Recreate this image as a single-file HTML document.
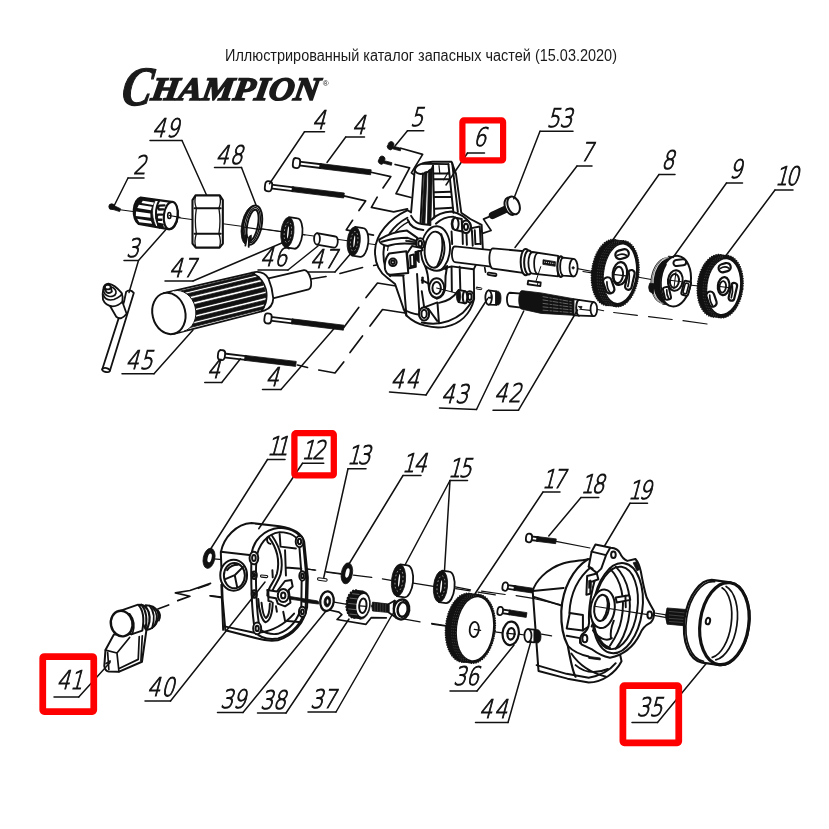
<!DOCTYPE html>
<html lang="ru">
<head>
<meta charset="utf-8">
<title>Иллюстрированный каталог запасных частей</title>
<style>
html,body{margin:0;padding:0;background:#fff;}
body{width:829px;height:829px;overflow:hidden;position:relative;font-family:"Liberation Sans",sans-serif;}
svg{position:absolute;left:0;top:0;display:block;}
.hdr{font-family:"Liberation Sans",sans-serif;font-size:15.6px;fill:#1a1a1a;}
.logo{font-family:"Liberation Serif",serif;font-weight:bold;font-style:italic;fill:#1a1a1a;stroke:#1a1a1a;stroke-width:1.2px;}
.n{font-family:"DejaVu Sans Light","DejaVu Sans","Liberation Sans",sans-serif;font-weight:200;font-size:25.6px;fill:#111;stroke:#111;stroke-width:1px;}
.l{stroke:#111;stroke-width:1.5;fill:none;stroke-linecap:round;stroke-linejoin:round;}
.p{fill:#fff;stroke:#111;stroke-width:1.8;vector-effect:non-scaling-stroke;stroke-linejoin:round;stroke-linecap:round;}
.pn{fill:none;stroke:#111;stroke-width:1.7;vector-effect:non-scaling-stroke;stroke-linejoin:round;stroke-linecap:round;}
.t{fill:none;stroke:#111;stroke-width:1;vector-effect:non-scaling-stroke;stroke-linejoin:round;stroke-linecap:round;}
.k{fill:#111;stroke:#111;stroke-width:.8;vector-effect:non-scaling-stroke;stroke-linejoin:round;}
.hv{fill:none;stroke:#111;stroke-width:2.2;vector-effect:non-scaling-stroke;stroke-linejoin:round;stroke-linecap:round;}
.w{fill:#fff;stroke:none;}
.hs .p{stroke-width:2;}
.hs .pn{stroke-width:1.95;}
.hs .t{stroke-width:1.2;}
.rb{fill:none;stroke:#ff0000;stroke-width:5;stroke-linejoin:round;}
</style>
</head>
<body>
<svg width="829" height="829" viewBox="0 0 829 829">
<rect width="829" height="829" fill="#fff"/>
<!-- header -->
<text class="hdr" style="filter:grayscale(1)" x="225" y="61" textLength="392" lengthAdjust="spacingAndGlyphs">Иллюстрированный каталог запасных частей (15.03.2020)</text>
<!-- logo -->
<g id="logo" style="filter:grayscale(1)">
<text class="logo" transform="translate(120,104.6) skewX(-9)"><tspan font-size="55.5" textLength="30" lengthAdjust="spacingAndGlyphs">C</tspan><tspan x="29.5" dy="-4.8" font-size="32.6" textLength="168" lengthAdjust="spacingAndGlyphs" style="stroke-width:1.6px">HAMPION</tspan></text>
<text x="322.8" y="85.5" font-size="8" fill="#1a1a1a" font-family="Liberation Sans, sans-serif">®</text>
</g>
<!-- red boxes -->

<g id="parts">
<!-- 05_zigzags_top.svg -->
<g transform="translate(330,130) scale(0.14476)">
<path class="k" d="M402,100 a20,20 0 1 1 36,12 l52,14 l-4,18 l-54,-14 a20,20 0 0 1 -30,-30z"/>
<path class="k" d="M340,200 a20,20 0 1 1 36,12 l52,14 l-4,18 l-54,-14 a20,20 0 0 1 -30,-30z"/>
<path class="pn" d="M490,126 L640,168 L562,296 L592,318"/>
<path class="pn" d="M450,238 L550,262 L456,440 L560,466"/>
<path class="pn" d="M275,290 L420,322 L366,400 M326,464 L286,535 L440,566 L535,545"/>
<path class="pn" d="M95,455 L246,490 L200,556 M156,624 L112,690 L300,726"/>
</g>
<!-- bolt 53 + zigzag -->
<g>
<path d="M507.5,208.4 L492.5,215.3" stroke="#111" stroke-width="7.4" stroke-linecap="round" fill="none"/>
<ellipse class="p" cx="510.6" cy="206.2" rx="5.6" ry="9" transform="rotate(-20 510.6 206.2)" style="stroke-width:2"/>
<ellipse class="p" cx="513.6" cy="205.4" rx="5.8" ry="9.2" transform="rotate(-20 513.6 205.4)" style="stroke-width:2"/>
<path class="pn" d="M489.4,216.6 L483.5,219.1 L491.1,230.5 L481,233.9"/>
</g>
<!-- dashed axes handle/bolts to housing -->
<path class="pn" d="M343.75,327.5 L358.75,307.5 M366,297.5 L377.5,283 L396,286"/>
<path class="pn" d="M297.5,365 L307.5,367.5 M318.75,370 L335,373 L343.75,362 M350,352.5 L362.5,336 M370,326 L382.5,309.5 L405,313"/>
<path class="pn" d="M311,279 L326,276.5 M340,273.5 L362.5,267.5 M373.75,265.5 L390,262.5"/>

<!-- 10_chuck_nut_ring.svg -->
<g transform="translate(100,180) scale(0.20507)">
<!-- axis line -->
<path class="t" d="M98,145 L1000,268" style="stroke-width:1.1"/>
<!-- screw 2 -->
<circle class="k" cx="57" cy="130" r="14"/>
<path class="k" d="M62,122 L100,140 L96,154 L58,142Z"/>
<!--CHUCK-->
<!-- nut 49 -->
<path class="p" style="stroke-width:2.1" d="M466,75 L584,75 L599,98 L599,310 L583,330 L467,330 L451,310 L451,98Z"/>
<path class="pn" style="stroke-width:1.9" d="M461,138 L589,138 M461,262 L589,262"/>
<path class="pn" style="stroke-width:1.3" d="M466,78 Q458,108 470,138 Q460,200 470,262 Q458,296 467,328 M584,78 Q592,108 580,138 Q590,200 580,262 Q592,296 583,328"/>
<!-- ring 48 -->
<g transform="rotate(11 742 220)">
<ellipse class="k" cx="736" cy="222" rx="45" ry="98"/>
<ellipse class="p" cx="744" cy="220" rx="44" ry="97" style="stroke-width:2"/>
<ellipse class="pn" cx="744" cy="220" rx="35" ry="87" style="stroke-width:1.3"/>
<ellipse class="p" cx="744" cy="220" rx="26" ry="77" style="stroke-width:2"/>
</g>
<path class="w" d="M716,282 L727,284 L725,328 L708,322Z"/>
<path class="pn" style="stroke-width:1.8" d="M716,280 L709,320 M727,282 L725,326"/>
<path class="k" d="M704,270 L717,266 L715,300 L705,304Z M726,276 L738,268 L738,300 L727,304Z"/>
<path class="t" d="M702,230 L788,242" style="stroke-width:1.2"/>
</g>

<!-- 11_chuck.svg -->
<g transform="translate(125,190) scale(0.07238)">
<path class="p" style="stroke-width:2.2" d="M215,105 L640,165 C700,180 735,260 728,360 C720,470 670,545 600,540 L190,470 C140,440 115,350 122,270 C130,180 170,115 215,105Z"/>
<!-- dark ribbed zone -->
<path class="k" d="M215,112 L420,142 C385,200 350,330 425,500 L190,462 C145,430 125,350 130,272 C138,190 175,122 215,112Z"/>
<path class="w" d="M245,150 L400,174 L386,206 L228,180Z M192,204 L372,232 L358,280 L170,250Z M152,298 L350,326 L352,384 L150,360Z M168,398 L358,428 L376,468 L196,444Z"/>
<!-- groove -->
<path class="pn" style="stroke-width:2" d="M472,150 C415,250 410,400 476,520"/>
<!-- slots -->
<path class="pn" style="stroke-width:2.4" d="M545,212 L475,216 Q440,242 472,270 L528,268 M512,340 L452,340 Q418,376 452,412 L502,412 M520,478 L468,470 Q452,488 470,500 L520,508"/>
<!-- face -->
<ellipse class="p" cx="632" cy="352" rx="95" ry="190" transform="rotate(7 632 352)" style="stroke-width:2.2"/>
<ellipse cx="612" cy="352" rx="22" ry="42" fill="#fff" stroke="#111" stroke-width="22"/>
<path class="t" style="stroke-width:1.2" d="M612,352 L760,378"/>
</g>

<!-- 20_bearings.svg -->
<path class="t" style="stroke-width:1.1" d="M260,228.5 L378,245"/>
<g transform="rotate(6 287.4 232.3)"><path class="p" style="stroke-width:1.8" d="M287.4,217.10000000000002 L296.0,217.5 A6.5,15.2 0 0 1 296.0,247.9 L287.4,247.5 Z"/><ellipse class="k" cx="287.4" cy="232.3" rx="6.5" ry="15.2"/><ellipse cx="287.9" cy="232.3" rx="3.6" ry="10.3" fill="none" stroke="#fff" stroke-width=".7" stroke-dasharray="1.6 2.4" opacity=".8"/><ellipse class="w" cx="288.0" cy="232.3" rx="0.7" ry="6.1"/></g>
<path class="p" d="M317,233.2 L335.5,236.5 A3,5.6 8 0 1 334,247.6 L317,244.6Z"/><ellipse class="p" cx="317" cy="238.9" rx="2.9" ry="5.6"/>
<g transform="rotate(6 353.7 241.3)"><path class="p" style="stroke-width:1.8" d="M353.7,226.8 L361.8,227.1 A6.5,14.5 0 0 1 361.8,256.1 L353.7,255.8 Z"/><ellipse class="k" cx="353.7" cy="241.3" rx="6.5" ry="14.5"/><ellipse cx="354.2" cy="241.3" rx="3.6" ry="9.9" fill="none" stroke="#fff" stroke-width=".7" stroke-dasharray="1.6 2.4" opacity=".8"/><ellipse class="w" cx="354.3" cy="241.3" rx="0.7" ry="5.8"/></g>
<!-- 21_bolts4.svg -->
<g transform="translate(293,162.7) rotate(7.02)"><rect class="p" x="6" y="-1.9" width="22.0" height="3.8"/><rect class="k" x="27.0" y="-2.5" width="51.5" height="5.0"/><rect class="p" x="0" y="-5.0" width="7" height="10" rx="2.6" ry="3.5"/></g>
<g transform="translate(265,185.8) rotate(7.00)"><rect class="p" x="6" y="-1.9" width="22.3" height="3.8"/><rect class="k" x="27.3" y="-2.5" width="52.3" height="5.0"/><rect class="p" x="0" y="-5.0" width="7" height="10" rx="2.6" ry="3.5"/></g>
<g transform="translate(264.5,318) rotate(6.98)"><rect class="p" x="6" y="-1.9" width="22.4" height="3.8"/><rect class="k" x="27.4" y="-2.5" width="52.4" height="5.0"/><rect class="p" x="0" y="-5.0" width="7" height="10" rx="2.6" ry="3.5"/></g>
<g transform="translate(218,354.7) rotate(6.73)"><rect class="p" x="6" y="-1.9" width="22.0" height="3.8"/><rect class="k" x="27.0" y="-2.5" width="51.5" height="5.0"/><rect class="p" x="0" y="-5.0" width="7" height="10" rx="2.6" ry="3.5"/></g>
<!-- 30_handle.svg -->
<g transform="translate(150,255) scale(0.20507)">
<!-- dashed axis from handle neck to housing -->
<g transform="translate(92,285) rotate(-13.8)">
<!-- neck -->
<path class="p" d="M470,-50 L690,-48 A22,48 0 0 1 690,48 L470,50Z"/>
<!-- grip body -->
<path class="p" d="M0,-102 L455,-96 Q500,-90 512,-50 Q520,0 512,50 Q500,92 455,98 L0,102Z"/>
<!-- ribs -->
<g>
<path class="k" d="M40,-93 L452,-90 L452,-80 L40,-82Z"/>
<path class="k" d="M40,-72 L470,-70 L472,-54 L40,-56Z"/>
<path class="k" d="M40,-44 L478,-42 L480,-24 L40,-26Z"/>
<path class="k" d="M40,-13 L482,-12 L482,7 L40,7Z"/>
<path class="k" d="M40,18 L482,18 L480,37 L40,38Z"/>
<path class="k" d="M40,49 L476,49 L470,66 L40,68Z"/>
<path class="k" d="M40,78 L462,77 L452,90 L40,92Z"/>
</g>
<ellipse class="w" cx="52" cy="0" rx="80" ry="101"/>
<path class="t" d="M52,-101 A80,101 0 0 1 52,101"/>
<ellipse class="p" cx="0" cy="0" rx="80" ry="102" style="stroke-width:2"/>
<path class="pn" d="M440,-97 Q486,-60 488,0 Q486,60 440,98"/>
</g>
</g>

<!-- 31_key.svg -->
<g transform="translate(90,275) scale(0.1327)">
<!-- T bar -->
<path class="p" d="M92,712 L258,195 L272,128 Q300,100 330,135 L150,722 Q120,745 92,712Z"/>
<ellipse class="p" cx="121" cy="716" rx="29" ry="15" transform="rotate(12 121 716)"/>
<!-- body -->
<path class="p" d="M150,232 L198,315 Q235,345 276,292 L245,205Z"/>
<!-- head cone -->
<path class="p" d="M100,105 Q105,70 140,66 Q185,72 238,135 Q252,170 244,200 Q215,235 170,236 Q115,228 98,185 Q92,140 100,105Z"/>
<path class="pn" d="M100,150 Q120,200 180,185 Q240,160 240,140"/>
<ellipse class="pn" cx="150" cy="125" rx="47" ry="36" transform="rotate(15 150 125)"/>
<path class="p" d="M112,95 L122,128 Q145,145 165,125 L156,90Z"/>
<ellipse class="p" cx="134" cy="92" rx="22" ry="17"/>
</g>

<!-- 40_housing6.svg -->
<g class="hs" transform="translate(370,150) scale(0.15682)">
<!-- silhouette -->
<path class="p" style="stroke-width:1.9" d="M285,130 C290,95 330,80 400,75 L520,75 L548,150 L582,400 L640,440 L712,478 L720,640 L662,760 L664,950 C640,1050 570,1110 480,1128 C400,1140 300,1120 232,1055 L215,1015 L160,855 L110,815 C60,780 30,720 32,640 C36,540 120,440 240,384 L262,398 Z"/>
<!-- round body arcs on left -->
<path class="pn" d="M238,432 C150,480 90,560 86,650 C84,720 100,770 128,805"/>
<path class="t" d="M250,455 C175,495 120,560 112,640"/>
<!-- tower -->
<path class="pn" d="M285,130 Q300,160 345,150 Q395,135 402,100"/>
<path class="pn" d="M262,420 Q290,470 330,472 L385,478"/>
<path class="pn" d="M240,444 Q262,505 340,510"/>
<path class="pn" d="M338,150 L322,465"/>
<path class="k" d="M348,140 L364,138 L350,470 L330,468Z M374,128 L398,118 L388,476 L366,474Z"/>
<path class="pn" d="M402,100 L410,430 M500,90 L532,400 M524,82 L560,395"/>
<path class="pn" d="M335,88 L500,90 M410,150 L503,150 M410,186 L506,186 M412,270 L515,266 M412,300 L518,300 M414,375 L526,368"/>
<path class="t" d="M440,100 L445,150 M470,190 L500,140"/>
<!-- flange plate top -->
<path class="pn" d="M392,445 Q440,395 520,392 Q600,410 640,470 L650,520"/>
<path class="pn" d="M420,470 Q470,425 530,425 Q575,440 590,470"/>
<!-- right-top lug -->
<ellipse class="p" cx="612" cy="490" rx="30" ry="40"/>
<ellipse class="p" cx="612" cy="490" rx="13" ry="20"/>
<!-- small cylinder boss -->
<path class="p" d="M545,432 L585,440 L588,520 L545,510Z"/>
<ellipse class="p" cx="545" cy="471" rx="20" ry="39"/>
<path class="k" d="M524,440 Q510,470 524,505 L532,505 Q520,470 532,440Z"/>
<!-- right bracket slot -->
<path class="pn" d="M640,500 L700,488 L706,600 M650,520 L655,610 M668,512 L672,600 L700,598"/>
<path class="pn" d="M590,520 L592,600 M615,530 L618,605 M520,520 L524,600"/>
<!-- big boss -->
<g transform="rotate(4 418 632)">
<ellipse class="p" cx="418" cy="632" rx="92" ry="146" style="stroke-width:1.9"/>
<ellipse class="p" cx="412" cy="636" rx="63" ry="115" style="stroke-width:1.9"/>
<path class="pn" d="M448,535 Q478,640 436,740"/>
</g>
<!-- keyhole neck + lower boss -->
<path class="p" d="M352,740 Q372,790 372,850 Q375,930 425,948 Q478,935 480,870 Q478,800 492,740 Q430,800 352,740Z"/>
<ellipse class="p" cx="425" cy="880" rx="48" ry="62"/>
<ellipse class="p" cx="425" cy="880" rx="27" ry="38"/>
<!-- left wing/fin -->
<path class="p" d="M58,572 Q140,522 236,514 L302,560 L292,600 Q180,588 112,612 Q60,604 58,572Z"/>
<path class="pn" d="M75,585 Q160,560 240,560 L296,580"/>
<path class="k" d="M228,575 l60,8 l0,8 l-60,-8z"/>
<!-- left lug -->
<ellipse class="p" cx="320" cy="597" rx="26" ry="34"/>
<ellipse class="p" cx="320" cy="597" rx="12" ry="19"/>
<!-- Y bracket -->
<path class="p" d="M236,660 L268,612 L330,625 L335,640 L290,650 L292,745 L246,756Z"/>
<path class="pn" d="M256,672 L280,666 L282,738 L259,744Z"/>
<path class="k" d="M292,650 L312,640 L314,720 L294,700Z"/>
<!-- left boss with hole -->
<path class="p" d="M232,646 L122,660 Q88,700 96,760 Q106,796 132,796 L244,784Z"/>
<circle class="p" cx="146" cy="716" r="24"/>
<circle class="p" cx="146" cy="716" r="11"/>
<!-- lower left walls -->
<path class="pn" d="M212,800 L232,1055 M300,790 L316,1060 M130,800 L215,800"/>
<path class="pn" d="M215,1015 Q250,1040 316,1050"/>
<!-- bottom lug -->
<ellipse class="p" cx="345" cy="1045" rx="32" ry="42"/>
<ellipse class="p" cx="345" cy="1045" rx="17" ry="26"/>
<path class="pn" d="M350,1002 L430,972 L440,1105 M372,1012 L428,1090 M345,1000 L330,900 M330,830 L372,850"/>
<path class="pn" d="M330,1100 Q480,1130 590,1040 Q640,990 656,950"/>
<path class="pn" d="M440,975 Q520,960 560,900"/>
<!-- right side panels -->
<path class="pn" d="M520,745 L522,900 M572,745 L576,890 M660,760 L520,742 M480,760 Q500,740 520,745"/>
<!-- right lower lug -->
<ellipse class="p" cx="636" cy="936" rx="26" ry="36"/>
<ellipse class="p" cx="636" cy="936" rx="12" ry="21"/>
<!-- lower bushing on shaft -->
<path class="t" style="stroke-width:1.1" d="M425,880 L560,915"/>
<path class="p" d="M565,893 L605,900 L606,978 L565,970Z"/>
<ellipse class="p" cx="606" cy="939" rx="14" ry="39"/>
<ellipse class="k" cx="565" cy="931" rx="14" ry="39"/>
<path class="k" d="M330,810 l10,0 l0,40 l-10,0z"/>
</g>

<!-- 45_shafts.svg -->
<g transform="translate(450,230) scale(0.19305)">
<!-- axis -->
<path class="t" style="stroke-width:1.1" d="M640,196 L745,216"/>
<!-- shaft 7 section 1 -->
<path class="p" d="M25,85 L215,104 L212,190 L25,166 A15,40 0 0 1 25,85Z"/>
<!-- section 2 -->
<path class="p" d="M222,95 L385,110 L378,222 L222,200 A18,52 0 0 1 222,95Z"/>
<!-- collar -->
<ellipse class="p" cx="392" cy="166" rx="26" ry="68" style="stroke-width:2"/>
<ellipse class="p" cx="408" cy="168" rx="24" ry="62" style="stroke-width:2"/>
<!-- section 3 -->
<path class="p" d="M428,114 L560,134 L560,240 L428,226 A22,56 0 0 1 428,114Z"/>
<path class="pn" d="M452,120 A22,56 0 0 0 452,228"/>
<path class="k" d="M482,154 L546,164 L545,188 L481,178Z"/>
<path d="M488,166 L540,174" stroke="#fff" stroke-width="5" stroke-dasharray="5 5" fill="none"/>
<!-- groove ring -->
<ellipse class="p" cx="574" cy="190" rx="18" ry="53" style="stroke-width:2.2"/>
<!-- end section -->
<path class="p" d="M586,143 L640,150 L640,240 L586,236 A18,47 0 0 1 586,143Z"/>
<ellipse class="p" cx="640" cy="195" rx="21" ry="45"/>
<circle class="k" cx="638" cy="196" r="6"/>
<!-- keys -->
<path class="t" d="M470,190 L445,266"/>
<path class="p" d="M405,262 L470,272 L468,291 L402,281Z"/>
<path class="t" d="M455,270 L453,289"/>
<rect class="p" x="196" y="220" width="46" height="12" rx="5" transform="rotate(9 196 220)"/>
<path class="pn" d="M180,195 L184,218"/>
<rect class="p" x="136" y="296" width="30" height="9" rx="4" transform="rotate(9 136 296)" style="stroke-width:1"/>
<!-- bushing 43 -->
<path class="p" d="M200,313 L240,318 L240,388 L200,387Z"/>
<path class="k" d="M236,316 L252,318 A16,36 0 0 1 252,388 L236,388Z"/>
<ellipse class="p" cx="200" cy="350" rx="17" ry="37"/>
<path class="pn" d="M200,350 L214,352 L214,340"/>
<!-- shaft 42 -->
<path class="p" d="M310,325 L372,330 L368,402 L310,395 A15,35 0 0 1 310,325Z"/>
<path class="k" d="M372,314 L472,326 L640,356 L640,442 L472,432 L372,410 A16,48 0 0 1 372,314Z"/>
<path d="M480,345 L632,372 M480,362 L632,386 M480,380 L632,400 M480,398 L632,414 M480,415 L632,428" stroke="#fff" stroke-width="3" fill="none" stroke-dasharray="30 6 12 4" opacity=".6"/>
<path class="p" d="M640,358 L745,374 L745,446 L640,442Z"/>
<ellipse class="p" cx="745" cy="410" rx="17" ry="36"/>
<path class="pn" d="M668,362 A14,40 0 0 0 668,444" style="stroke-width:2"/>
<path class="k" d="M664,396 L684,396 L680,408Z"/>
<path class="t" style="stroke-width:1.1" d="M764,412 L796,418"/>
</g>

<!-- 50_gears_top.svg -->
<g transform="translate(585,235) scale(0.20507)">
<path class="t" style="stroke-width:1.1" d="M-10,178 L40,186 M255,205 L330,218 M520,245 L565,250"/>
<g transform="rotate(7 172 189)"><ellipse class="k" cx="122" cy="189" rx="89" ry="161"/><rect class="k" x="122" y="28" width="50" height="322"/><ellipse class="k" cx="172" cy="189" rx="89" ry="161"/><ellipse cx="122" cy="189" rx="90" ry="162" fill="none" stroke="#111" vector-effect="non-scaling-stroke" style="stroke-width:1.4;stroke-dasharray:1.2 1.2"/><ellipse cx="172" cy="189" rx="90" ry="162" fill="none" stroke="#111" vector-effect="non-scaling-stroke" style="stroke-width:1.4;stroke-dasharray:1.2 1.2"/><path d="M128.4,32.8 A89,161 0 0 0 128.4,345.2" fill="none" stroke="#fff" stroke-width="2.0" stroke-dasharray="5.0 9.0" opacity=".45"/><path d="M138.4,32.8 A89,161 0 0 0 138.4,345.2" fill="none" stroke="#fff" stroke-width="2.0" stroke-dasharray="5.0 9.0" opacity=".45"/><path d="M148.4,32.8 A89,161 0 0 0 148.4,345.2" fill="none" stroke="#fff" stroke-width="2.0" stroke-dasharray="5.0 9.0" opacity=".45"/><path d="M158.4,32.8 A89,161 0 0 0 158.4,345.2" fill="none" stroke="#fff" stroke-width="2.0" stroke-dasharray="5.0 9.0" opacity=".45"/><ellipse class="w" cx="170.2" cy="189" rx="77" ry="143.0"/></g>
<g transform="rotate(7 172 190)">
<ellipse class="p" cx="170" cy="188" rx="35" ry="56" style="stroke-width:2.2"/>
<ellipse class="p" cx="163" cy="196" rx="23" ry="40" style="stroke-width:2"/>
<path class="t" style="stroke-width:1.2" d="M138,196 L200,196"/>
<rect class="p" x="136" y="72" width="66" height="42" rx="21" transform="rotate(-22 169 93)" style="stroke-width:2.2"/>
<rect class="p" x="206" y="164" width="32" height="98" rx="16" transform="rotate(6 222 213)" style="stroke-width:2.2"/>
<rect class="p" x="102" y="212" width="42" height="80" rx="20" transform="rotate(-26 123 252)" style="stroke-width:2.2"/>
<path class="pn" d="M146,102 q22,-16 44,-6 M214,180 q8,36 2,66 M112,236 q4,34 22,50"/>
</g>
<g transform="rotate(7 440 225)">
<ellipse class="k" cx="392" cy="228" rx="70" ry="112"/>
<rect class="k" x="392" y="108" width="48" height="236"/>
<path d="M372,126 A70,112 0 0 0 372,330 M384,120 A70,112 0 0 0 384,336 M396,116 A70,112 0 0 0 396,340" fill="none" stroke="#fff" stroke-width="3"/>
<path class="k" d="M318,250 q-8,20 4,40 l20,10 l0,-50z"/>
<ellipse class="p" cx="440" cy="225" rx="76" ry="124" style="stroke-width:2"/>
<path class="pn" d="M385,150 A76,124 0 0 0 400,320" />
<ellipse class="p" cx="440" cy="222" rx="36" ry="50" style="stroke-width:2"/>
<ellipse class="p" cx="436" cy="224" rx="22" ry="34" style="stroke-width:2"/>
<path class="t" d="M405,224 L470,224 M438,180 L438,262"/>
<rect class="p" x="420" y="118" width="62" height="30" rx="15" transform="rotate(-14 450 133)" style="stroke-width:2"/>
<rect class="p" x="480" y="218" width="34" height="70" rx="8" transform="rotate(8 497 253)" style="stroke-width:2"/>
<rect class="p" x="487" y="228" width="18" height="52" rx="8" transform="rotate(8 497 253)" style="stroke-width:1.6"/>
<rect class="p" x="392" y="258" width="30" height="62" rx="10" transform="rotate(-20 407 288)" style="stroke-width:2"/>
<path class="pn" d="M404,272 q2,26 14,40"/>
</g>
<g transform="rotate(7 678 252)"><ellipse class="k" cx="640" cy="252" rx="91" ry="152"/><rect class="k" x="640" y="100" width="38" height="304"/><ellipse class="k" cx="678" cy="252" rx="91" ry="152"/><ellipse cx="640" cy="252" rx="92" ry="153" fill="none" stroke="#111" vector-effect="non-scaling-stroke" style="stroke-width:1.4;stroke-dasharray:1.2 1.2"/><ellipse cx="678" cy="252" rx="92" ry="153" fill="none" stroke="#111" vector-effect="non-scaling-stroke" style="stroke-width:1.4;stroke-dasharray:1.2 1.2"/><path d="M645.9,104.6 A91,152 0 0 0 645.9,399.4" fill="none" stroke="#fff" stroke-width="2.0" stroke-dasharray="5.0 9.0" opacity=".45"/><path d="M655.4,104.6 A91,152 0 0 0 655.4,399.4" fill="none" stroke="#fff" stroke-width="2.0" stroke-dasharray="5.0 9.0" opacity=".45"/><path d="M664.9,104.6 A91,152 0 0 0 664.9,399.4" fill="none" stroke="#fff" stroke-width="2.0" stroke-dasharray="5.0 9.0" opacity=".45"/><ellipse class="w" cx="676.2" cy="252" rx="79" ry="134.0"/></g>
<g transform="rotate(7 682 250)">
<ellipse class="p" cx="676" cy="250" rx="28" ry="44" style="stroke-width:2.2"/>
<ellipse class="p" cx="672" cy="254" rx="16" ry="28" style="stroke-width:1.8"/>
<path class="t" style="stroke-width:1.2" d="M648,254 L740,254"/>
<rect class="p" x="640" y="140" width="60" height="40" rx="20" transform="rotate(-22 670 160)" style="stroke-width:2.2"/>
<rect class="p" x="710" y="228" width="28" height="88" rx="14" transform="rotate(6 724 272)" style="stroke-width:2.2"/>
<rect class="p" x="606" y="282" width="38" height="76" rx="19" transform="rotate(-26 625 320)" style="stroke-width:2.2"/>
<path class="pn" d="M650,166 q20,-16 40,-6 M718,244 q8,32 2,58 M614,302 q4,32 20,48"/>
</g>
<path class="t" style="stroke-width:1.2" d="M-25,362 L25,368 M140,378 L255,392 M310,398 L425,412 M478,418 L595,434"/>
</g>
<!-- 60_housing12.svg -->
<g class="hs" transform="translate(200,505) scale(0.18094)">
<!-- axis lines -->
<path class="t" style="stroke-width:1.1" d="M75,298 L125,302 M55,500 L120,508 M300,320 L640,360 M-10,462 L50,440 M700,372 L790,384"/>
<!-- body silhouette -->
<path class="p" style="stroke-width:2" d="M115,262 C130,180 200,105 285,100 L440,118 C520,130 565,160 576,205 L596,400 L592,565 C575,650 520,720 430,748 C390,752 340,745 318,738 L140,692 L125,520 Z"/>
<!-- left panel ledge lines -->
<path class="pn" d="M115,258 L285,278 M142,672 L300,706 M118,440 L128,690"/>
<!-- front rim outer -->
<path class="pn" style="stroke-width:2" d="M285,278 C290,200 350,135 440,126 C510,130 560,160 570,205 L588,400 L584,565 C566,650 520,710 432,738 C380,745 330,735 305,700 C285,600 280,400 285,278Z"/>
<!-- inner rim -->
<path class="pn" d="M312,300 C320,220 370,160 440,150 C505,152 540,175 548,215 L562,400 L560,560 C545,630 500,690 430,712 C390,718 345,705 330,680 C312,600 305,400 312,300Z"/>
<!-- round hole on left panel -->
<ellipse class="p" cx="186" cy="388" rx="74" ry="86" style="stroke-width:2"/>
<ellipse class="p" cx="190" cy="390" rx="58" ry="70" style="stroke-width:2"/>
<path class="pn" d="M192,388 L238,342 M192,388 L140,410 M192,388 L205,452 M150,360 Q170,330 210,330"/>
<!-- screw bosses -->
<ellipse class="p" cx="298" cy="293" rx="24" ry="35"/>
<ellipse class="p" cx="298" cy="293" rx="10" ry="16"/>
<ellipse class="p" cx="550" cy="202" rx="21" ry="31"/>
<ellipse class="p" cx="550" cy="202" rx="9" ry="15"/>
<ellipse class="p" cx="566" cy="392" rx="17" ry="26"/>
<ellipse class="p" cx="566" cy="392" rx="7" ry="12"/>
<ellipse class="p" cx="566" cy="590" rx="19" ry="28"/>
<ellipse class="p" cx="566" cy="590" rx="8" ry="13"/>
<ellipse class="p" cx="316" cy="682" rx="22" ry="32"/>
<ellipse class="p" cx="316" cy="682" rx="9" ry="15"/>
<ellipse class="p" cx="300" cy="388" rx="14" ry="21"/>
<ellipse class="p" cx="300" cy="388" rx="5" ry="8"/>
<ellipse class="p" cx="300" cy="492" rx="14" ry="21"/>
<ellipse class="p" cx="300" cy="492" rx="5" ry="8"/>
<!-- internal S wall -->
<path class="pn" style="stroke-width:2" d="M378,175 C420,230 445,300 425,380 C410,430 375,450 372,500"/>
<path class="pn" d="M398,170 C440,230 465,300 445,385 C430,430 400,455 395,495"/>
<path class="pn" d="M372,180 Q365,210 390,215 M440,160 L445,230 L530,240 M470,250 L475,390 M475,345 L560,352 M400,360 L402,400"/>
<!-- pin small -->
<rect class="p" x="335" y="386" width="40" height="12" rx="6" transform="rotate(6 335 386)" style="stroke-width:1.1"/>
<!-- lower arcs -->
<path class="pn" style="stroke-width:2" d="M322,520 C325,590 345,640 362,648 C385,640 400,600 402,540"/>
<path class="pn" d="M340,540 C345,590 355,620 365,625 C378,615 385,590 386,545"/>
<path class="pn" d="M330,705 Q440,690 520,600 M460,590 L470,640 L560,648 M420,560 L425,590"/>
<!-- lever boss -->
<path class="p" d="M372,470 L425,478 L470,420 L505,415 L512,450 L490,470 L500,540 L470,560 L430,545 L420,515 L378,508Z"/>
<ellipse class="p" cx="460" cy="500" rx="30" ry="36" style="stroke-width:2"/>
<ellipse class="p" cx="460" cy="500" rx="12" ry="16"/>
<path class="k" d="M492,505 L650,530 L650,542 L492,520Z"/>
<path class="pn" d="M378,470 L378,530 L395,535"/>
</g>

<!-- 65_bottom_mid.svg -->
<g transform="translate(310,550) scale(0.19305)">
<path class="t" style="stroke-width:1.2" d="M-20,97 L25,104 M80,112 L160,122 M225,130 L320,142 M375,150 L420,157 M535,172 L640,188 M755,200 L829,212 M870,218 L960,232"/>
<path class="t" style="stroke-width:1.2" d="M125,270 L185,280 M318,290 L324,292 M490,358 L570,372 M630,380 L720,394"/>
<path class="k" d="M-40,258 L45,268 L45,280 L-40,270Z"/>
<rect class="p" x="40" y="143" width="50" height="13" rx="6" transform="rotate(8 40 143)" style="stroke-width:1.1"/>
<ellipse class="k" cx="191" cy="121" rx="29" ry="55" transform="rotate(10 191 121)"/><ellipse class="w" cx="194" cy="119" rx="10" ry="25" transform="rotate(12 194 119)"/>
<ellipse class="k" cx="-523" cy="43" rx="30" ry="53" transform="rotate(12 -523 43)"/><ellipse class="w" cx="-520" cy="41" rx="10" ry="23" transform="rotate(14 -520 41)"/>
</g>
<g transform="rotate(6 398.5 580.3)"><path class="p" style="stroke-width:1.8" d="M398.5,564.3 L406.1,564.6 A7.0,16.0 0 0 1 406.1,596.6 L398.5,596.3 Z"/><ellipse class="k" cx="398.5" cy="580.3" rx="7.0" ry="16.0"/><ellipse cx="399.0" cy="580.3" rx="3.9" ry="10.9" fill="none" stroke="#fff" stroke-width=".7" stroke-dasharray="1.6 2.4" opacity=".8"/><ellipse class="w" cx="399.1" cy="580.3" rx="0.8" ry="6.4"/></g>
<g transform="rotate(6 440.5 586.4)"><path class="p" style="stroke-width:1.8" d="M440.5,570.6 L447.6,570.9 A7.0,15.8 0 0 1 447.6,602.5 L440.5,602.1999999999999 Z"/><ellipse class="k" cx="440.5" cy="586.4" rx="7.0" ry="15.8"/><ellipse cx="441.0" cy="586.4" rx="3.9" ry="10.7" fill="none" stroke="#fff" stroke-width=".7" stroke-dasharray="1.6 2.4" opacity=".8"/><ellipse class="w" cx="441.1" cy="586.4" rx="0.8" ry="6.3"/></g>
<g transform="translate(310,550) scale(0.19305)">
<ellipse class="p" cx="88" cy="265" rx="35" ry="51" transform="rotate(6 88 265)" style="stroke-width:2.3"/>
<ellipse class="k" cx="90" cy="267" rx="17" ry="28" transform="rotate(6 90 267)"/><ellipse class="w" cx="91" cy="267" rx="5" ry="12"/>
<g transform="rotate(6 268 286)">
<ellipse class="k" cx="230" cy="284" rx="42" ry="72"/><rect class="k" x="230" y="212" width="38" height="144"/>
<ellipse class="k" cx="268" cy="286" rx="44" ry="73"/>
<path d="M212,232 L250,232 M202,256 L244,256 M197,284 L242,284 M200,312 L244,312 M210,338 L250,338" stroke="#fff" stroke-width="2.5" fill="none" opacity=".7"/>
<ellipse cx="230" cy="284" rx="43" ry="73" fill="none" stroke="#111" stroke-width="7" stroke-dasharray="9 7"/>
<ellipse class="w" cx="273" cy="286" rx="33" ry="59"/>
<ellipse cx="274" cy="288" rx="19" ry="38" fill="#fff" stroke="#111" stroke-width="10"/>
<path class="t" style="stroke-width:1.2" d="M258,290 L292,290"/>
</g>
<path class="pn" d="M105,312 L150,322 L165,335 L140,360 L290,385 L318,350 L395,352"/>
<path class="k" d="M324,270 L410,280 L410,324 L324,316 Q316,292 324,270Z"/>
<path d="M336,274 L336,316 M350,276 L350,318 M364,277 L364,320 M378,279 L378,321 M392,280 L392,322" stroke="#fff" stroke-width="2" fill="none" opacity=".45"/>
<path class="p" d="M408,280 L440,262 L445,350 L408,324Z"/>
<ellipse class="p" cx="474" cy="308" rx="40" ry="52" transform="rotate(8 474 308)" style="stroke-width:2.4"/>
<ellipse class="p" cx="480" cy="308" rx="26" ry="38" transform="rotate(8 480 308)" style="stroke-width:2.4"/>
<path class="pn" d="M438,262 Q425,300 445,350"/>
</g>
<!-- 75_housing19.svg -->
<g class="hs" transform="translate(525,530) scale(0.19305)">
<!-- back body -->
<path class="p" style="stroke-width:2" d="M40,318 C50,270 110,200 200,172 C250,160 300,158 335,150 L420,300 L500,680 C470,740 400,790 330,790 L220,770 L70,730 Z"/>
<path class="pn" d="M40,316 L200,300 M42,345 L190,392 M60,700 L215,745 L330,765 Q420,750 470,690"/>
<!-- ring back arcs -->
<path class="pn" style="stroke-width:2.2" d="M325,152 C250,200 195,300 188,420 C186,500 200,560 222,600 C240,700 250,740 262,760"/>
<path class="pn" d="M350,185 C280,240 235,320 230,430"/>
<path class="pn" d="M222,600 Q260,640 330,655 M240,640 Q300,730 420,760 M262,700 Q330,760 430,720"/>
<!-- rectangular notches -->
<path class="p" d="M232,430 L300,440 L300,520 L216,510 Z"/>
<path class="pn" d="M216,548 L285,560 L285,585 M300,520 L330,500"/>
<!-- front flange -->
<path class="p" style="stroke-width:2" d="M365,75 L445,92 Q480,95 492,120 Q505,150 530,160 L572,150 Q590,170 600,215 Q615,300 630,350 Q650,390 668,420 Q672,460 650,480 Q610,500 595,540 Q545,640 440,662 Q390,650 350,620 L292,592 Q280,560 296,540 Q330,520 332,480 Q325,380 372,222 L330,190 L345,112 Z"/>
<path class="pn" d="M345,112 L420,130 L440,95 M420,130 L395,200 L372,222 M330,190 L350,200"/>
<!-- inner opening -->
<g transform="rotate(8 480 405)">
<ellipse class="p" cx="480" cy="405" rx="128" ry="235" style="stroke-width:2"/>
<ellipse class="pn" cx="470" cy="405" rx="112" ry="215"/>
</g>
<!-- lugs holes -->
<ellipse class="p" cx="458" cy="128" rx="12" ry="17"/>
<ellipse class="p" cx="646" cy="440" rx="12" ry="18"/>
<ellipse class="p" cx="310" cy="562" rx="13" ry="19"/>
<!-- interior -->
<path class="pn" d="M440,200 C500,260 520,360 500,460 C490,520 460,570 440,600"/>
<path class="pn" d="M470,190 C540,260 555,370 535,470 C520,540 490,590 470,615"/>
<path class="pn" d="M352,520 C380,560 420,580 450,560 M372,540 Q400,600 440,610 M345,500 Q350,480 370,490"/>
<path class="p" d="M470,350 L540,338 L545,362 L475,376Z"/>
<path class="pn" d="M520,340 L522,400 M460,470 Q440,520 445,560"/>
<!-- hub -->
<g transform="rotate(8 400 410)">
<ellipse class="p" cx="402" cy="408" rx="62" ry="100" style="stroke-width:2"/>
<ellipse class="p" cx="396" cy="404" rx="38" ry="68" style="stroke-width:2"/>
<path class="pn" d="M414,345 Q440,400 410,465"/>
</g>
<!-- clips at left-top of opening -->
<path class="p" d="M322,238 L372,225 L380,255 L340,270 L338,330 L318,335Z"/>
<path class="k" d="M330,262 l12,-3 l0,40 l-12,3z"/>
<path class="k" d="M560,170 l18,-6 l16,40 l-14,8z"/>
<path class="k" d="M330,655 l60,8 l0,10 l-60,-8z"/>
<!-- axis -->
<path class="t" style="stroke-width:1.2" d="M360,395 L636,438 M668,442 L740,455"/>
</g>

<!-- 78_gear17.svg -->
<g transform="translate(430,570) scale(0.16888)">
<path class="t" style="stroke-width:1.2" d="M150,100 L240,118 M305,125 L445,145 M510,152 L620,170 L770,205 M10,320 L95,332 M290,355 L430,372 M525,380 L560,385 M660,380 L720,390"/>
<g transform="rotate(6 268 348)"><ellipse class="k" cx="210" cy="348" rx="117" ry="204"/><rect class="k" x="210" y="144" width="58" height="408"/><ellipse class="k" cx="268" cy="348" rx="117" ry="204"/><ellipse cx="210" cy="348" rx="118" ry="205" fill="none" stroke="#111" vector-effect="non-scaling-stroke" style="stroke-width:1.4;stroke-dasharray:1.2 1.2"/><ellipse cx="268" cy="348" rx="118" ry="205" fill="none" stroke="#111" vector-effect="non-scaling-stroke" style="stroke-width:1.4;stroke-dasharray:1.2 1.2"/><path d="M218.3,150.1 A117,204 0 0 0 218.3,545.9" fill="none" stroke="#fff" stroke-width="2.4" stroke-dasharray="6.0 10.799999999999999" opacity=".45"/><path d="M229.9,150.1 A117,204 0 0 0 229.9,545.9" fill="none" stroke="#fff" stroke-width="2.4" stroke-dasharray="6.0 10.799999999999999" opacity=".45"/><path d="M241.5,150.1 A117,204 0 0 0 241.5,545.9" fill="none" stroke="#fff" stroke-width="2.4" stroke-dasharray="6.0 10.799999999999999" opacity=".45"/><path d="M253.1,150.1 A117,204 0 0 0 253.1,545.9" fill="none" stroke="#fff" stroke-width="2.4" stroke-dasharray="6.0 10.799999999999999" opacity=".45"/><ellipse class="w" cx="266.35" cy="348" rx="106" ry="187.5"/></g>
<ellipse class="p" cx="262" cy="352" rx="27" ry="45" transform="rotate(6 262 352)" style="stroke-width:1.8"/>
<path class="t" style="stroke-width:1.2" d="M262,352 L300,357"/>
<ellipse class="p" cx="478" cy="375" rx="48" ry="70" transform="rotate(6 478 375)" style="stroke-width:2.2"/>
<ellipse cx="480" cy="378" rx="21" ry="34" transform="rotate(6 480 378)" fill="#fff" stroke="#111" stroke-width="13"/>
<path class="t" style="stroke-width:1.2" d="M455,374 L505,380"/>
<path class="k" d="M612,352 L640,354 A22,40 0 0 1 640,432 L612,428Z"/>
<path class="p" d="M580,350 L618,353 L618,428 L580,426Z"/>
<ellipse class="p" cx="580" cy="388" rx="21" ry="38" style="stroke-width:1.8"/>
</g>
<g transform="translate(526,537.6) rotate(7.03)"><rect class="p" x="5" y="-1.8" width="6.8" height="3.6"/><rect class="k" x="10.8" y="-2.4" width="19.4" height="4.8"/><rect class="p" x="0" y="-4.3" width="6" height="8.6" rx="2.6" ry="3.5"/></g>
<path class="t" style="stroke-width:1.2" d="M556,541.3 L590,548"/>
<g transform="translate(502.5,586.2) rotate(8.34)"><rect class="p" x="4.5" y="-1.8" width="8.2" height="3.6"/><rect class="k" x="11.7" y="-2.4" width="18.6" height="4.8"/><rect class="p" x="0" y="-4.2" width="5.5" height="8.4" rx="2.6" ry="3.5"/></g>
<g transform="translate(497.5,610.6) rotate(8.63)"><rect class="p" x="4.5" y="-1.8" width="8.0" height="3.6"/><rect class="k" x="11.5" y="-2.4" width="17.9" height="4.8"/><rect class="p" x="0" y="-4.2" width="5.5" height="8.4" rx="2.6" ry="3.5"/></g>
<!-- 80_cup35.svg -->
<g transform="translate(640,540) scale(0.19305)">
<!-- splined shaft -->
<path class="k" d="M140,352 L240,360 L240,445 L140,436 Q125,395 140,352Z"/>
<path d="M150,370 L236,378 M150,388 L236,396 M150,406 L236,412 M150,422 L236,428" stroke="#fff" stroke-width="3" fill="none" opacity=".35"/>
<path class="t" style="stroke-width:1.2" d="M75,378 L135,388"/>
<!-- cup -->
<g transform="rotate(8 400 425)">
<path class="p" style="stroke-width:2.2" d="M352,212 L438,212 A128,216 0 0 1 438,644 L352,644 A122,216 0 0 1 352,212Z"/>
<path class="pn" d="M358,220 A118,208 0 0 0 358,636"/>
<ellipse class="p" cx="438" cy="428" rx="126" ry="214" style="stroke-width:3.2"/>
<path class="pn" d="M420,236 A104,196 0 0 1 420,620"/>
<path class="pn" d="M400,246 A92,186 0 0 1 400,610"/>
</g>
<ellipse class="p" cx="352" cy="420" rx="11" ry="17" transform="rotate(12 352 420)" style="stroke-width:2"/>
</g>

<!-- 85_lever41.svg -->
<g transform="translate(95,580) scale(0.16888)">
<!-- axis & break -->
<path class="pn" d="M372,172 L436,148 M490,122 L562,96 L476,76 L562,62 L684,20 M682,94 L752,104"/>
<!-- collar discs -->
<path class="p" d="M300,150 Q350,150 370,185 Q385,215 360,262 Q340,290 310,295Z" style="stroke-width:2"/>
<path class="pn" d="M322,152 Q365,200 338,285 M340,160 Q385,210 352,270 M372,180 Q395,205 378,240" style="stroke-width:1.8"/>
<path class="p" d="M255,148 Q300,140 318,190 Q335,250 300,300 L262,310Z" style="stroke-width:2.2"/>
<path class="pn" d="M275,146 Q320,200 296,300" style="stroke-width:2"/>
<!-- arm -->
<path class="p" style="stroke-width:2" d="M112,322 L62,415 L55,510 Q60,540 82,542 L140,544 L278,484 L304,300 L285,262 L215,320Z"/>
<path class="pn" d="M62,415 L130,432 L205,340 M130,432 L142,542 M262,335 L256,470 L146,522 M280,330 L272,478 M75,430 L82,530 M66,495 L90,480"/>
<!-- knob cylinder -->
<path class="p" style="stroke-width:2" d="M140,186 L255,146 Q300,190 280,300 L215,322Z"/>
<ellipse class="p" cx="158" cy="258" rx="64" ry="76" transform="rotate(-12 158 258)" style="stroke-width:2.4"/>
<path class="pn" d="M205,200 Q245,250 222,318"/>
</g>

</g>
<g id="labels" style="filter:grayscale(1)">
<text class="n" transform="translate(151,137.2) skewX(-15) scale(0.8,1)" x="1.23 18.61">49</text>
<path class="l" d="M150,140.5H182"/>
<path class="l" d="M182,140.5 L206.5,195"/>
<text class="n" transform="translate(214.5,164.2) skewX(-15) scale(0.8,1)" x="1.23 18.61">48</text>
<path class="l" d="M214.5,167.5H241.5"/>
<path class="l" d="M241.5,167.5 L256,205"/>
<text class="n" transform="translate(133,174.2) skewX(-15) scale(0.8,1)" x="-0.14">2</text>
<path class="l" d="M128,178H144"/>
<path class="l" d="M128,178 L114,206"/>
<text class="n" transform="translate(126,257.2) skewX(-15) scale(0.8,1)" x="-0.14">3</text>
<path class="l" d="M124,260.5H138.5"/>
<path class="l" d="M165.5,230 L138.5,260.5 L129,292.5"/>
<text class="n" transform="translate(168,277.2) skewX(-15) scale(0.8,1)" x="1.23 18.61">47</text>
<path class="l" d="M165,281H193"/>
<path class="l" d="M193,281 L283,242.5"/>
<text class="n" transform="translate(259,266.2) skewX(-15) scale(0.8,1)" x="1.23 18.61">46</text>
<path class="l" d="M258,270H288"/>
<path class="l" d="M288,270 L318,246"/>
<text class="n" transform="translate(309,268.2) skewX(-15) scale(0.8,1)" x="1.23 18.61">47</text>
<path class="l" d="M308.5,272H335"/>
<path class="l" d="M335,272 L352,252"/>
<text class="n" transform="translate(124.5,369.2) skewX(-15) scale(0.8,1)" x="1.23 18.61">45</text>
<path class="l" d="M122,373.75H154"/>
<path class="l" d="M154,373.75 L193,330"/>
<text class="n" transform="translate(206,378.2) skewX(-15) scale(0.8,1)" x="1.23">4</text>
<path class="l" d="M204.75,382.5H221.75"/>
<path class="l" d="M221.75,382.5 L240.5,358.75"/>
<text class="n" transform="translate(264.5,386.2) skewX(-15) scale(0.8,1)" x="1.23">4</text>
<path class="l" d="M262.5,389.5H281"/>
<path class="l" d="M281,389.5 L335,327.5"/>
<text class="n" transform="translate(311,129.2) skewX(-15) scale(0.8,1)" x="1.23">4</text>
<path class="l" d="M304.5,131.75H324.5"/>
<path class="l" d="M304.5,131.75 L269.5,183.75"/>
<text class="n" transform="translate(351,134.2) skewX(-15) scale(0.8,1)" x="1.23">4</text>
<path class="l" d="M345.75,137H364.5"/>
<path class="l" d="M345.75,137 L327,162.5"/>
<text class="n" transform="translate(410,126.2) skewX(-15) scale(0.8,1)" x="-0.14">5</text>
<path class="l" d="M407.5,130.75H423.75"/>
<path class="l" d="M407.5,130.75 L395,146"/>
<text class="n" transform="translate(473,146.2) skewX(-15) scale(0.8,1)" x="-0.14">6</text>
<path class="l" d="M467.5,153H484.5"/>
<path class="l" d="M467.5,153 L446,185"/>
<text class="n" transform="translate(546.5,126.95) skewX(-15) scale(0.8,1)" x="-0.14 15.86">53</text>
<path class="l" d="M540,131.25H573"/>
<path class="l" d="M540,131.25 L513.75,198.75"/>
<text class="n" transform="translate(580,161.2) skewX(-15) scale(0.8,1)" x="-0.14">7</text>
<path class="l" d="M577,166H592"/>
<path class="l" d="M577,166 L515,247.5"/>
<text class="n" transform="translate(661,169.2) skewX(-15) scale(0.8,1)" x="-0.14">8</text>
<path class="l" d="M659,174.5H675"/>
<path class="l" d="M659,174.5 L611,242.5"/>
<text class="n" transform="translate(729,178.2) skewX(-15) scale(0.8,1)" x="-0.14">9</text>
<path class="l" d="M726.5,183H742.5"/>
<path class="l" d="M726.5,183 L673,257.5"/>
<text class="n" transform="translate(777,185.2) skewX(-15) scale(0.8,1)" x="-2.83 10.48">10</text>
<path class="l" d="M775,190H793"/>
<path class="l" d="M775,190 L724.5,257.5"/>
<text class="n" transform="translate(389.5,387.7) skewX(-15) scale(0.8,1)" x="1.23 19.98">44</text>
<path class="l" d="M389.5,392L426,395"/>
<path class="l" d="M426,395 L487.5,298.75"/>
<text class="n" transform="translate(440,403.2) skewX(-15) scale(0.8,1)" x="1.23 18.61">43</text>
<path class="l" d="M439.5,408L476.5,409.5"/>
<path class="l" d="M476.5,409.5 L523.75,311"/>
<text class="n" transform="translate(493,402.2) skewX(-15) scale(0.8,1)" x="1.23 18.61">42</text>
<path class="l" d="M493,410.2H518.5"/>
<path class="l" d="M518.5,410.2 L577.5,310"/>
<text class="n" transform="translate(269,455.2) skewX(-15) scale(0.8,1)" x="-2.83 7.8">11</text>
<path class="l" d="M267.5,459.5H285"/>
<path class="l" d="M267.5,459.5 L210,550"/>
<text class="n" transform="translate(303.5,459.2) skewX(-15) scale(0.8,1)" x="-2.83 10.48">12</text>
<path class="l" d="M302.5,463.25H323.75"/>
<path class="l" d="M302.5,463.25 L258.75,528.75"/>
<text class="n" transform="translate(349,464.2) skewX(-15) scale(0.8,1)" x="-2.83 10.48">13</text>
<path class="l" d="M348,468.75H366"/>
<path class="l" d="M348,468.75 L323.75,577.5"/>
<text class="n" transform="translate(404,472.2) skewX(-15) scale(0.8,1)" x="-2.83 11.86">14</text>
<path class="l" d="M403,475.5H421"/>
<path class="l" d="M403,475.5 L349,564"/>
<text class="n" transform="translate(450,477.2) skewX(-15) scale(0.8,1)" x="-2.83 10.48">15</text>
<path class="l" d="M450,480.5H467.5"/>
<path class="l" d="M450,480.5 L405,565"/>
<path class="l" d="M450,480.5 L444.5,570.5"/>
<text class="n" transform="translate(544,487.7) skewX(-15) scale(0.8,1)" x="-2.83 10.48">17</text>
<path class="l" d="M543,492H560"/>
<path class="l" d="M543,492 L475,593.75"/>
<text class="n" transform="translate(582.75,492.7) skewX(-15) scale(0.8,1)" x="-2.83 10.48">18</text>
<path class="l" d="M581,497.5H598.75"/>
<path class="l" d="M581,497.5 L548.75,536"/>
<text class="n" transform="translate(630,498.7) skewX(-15) scale(0.8,1)" x="-2.83 10.48">19</text>
<path class="l" d="M630,503.25H647.5"/>
<path class="l" d="M630,503.25 L604.5,546"/>
<text class="n" transform="translate(54,689.2) skewX(-15) scale(0.8,1)" x="3.11 19.67">41</text>
<path class="l" d="M54,697H78.75"/>
<path class="l" d="M78.75,697 L110,662.5"/>
<text class="n" transform="translate(146,695.7) skewX(-15) scale(0.8,1)" x="1.23 18.61">40</text>
<path class="l" d="M145,701H170.5"/>
<path class="l" d="M170.5,701 L265,582"/>
<text class="n" transform="translate(220,707.7) skewX(-15) scale(0.8,1)" x="-0.14 15.86">39</text>
<path class="l" d="M217.5,712.5H243"/>
<path class="l" d="M243,712.5 L326,611"/>
<text class="n" transform="translate(260,708.7) skewX(-15) scale(0.8,1)" x="-0.14 15.86">38</text>
<path class="l" d="M257.5,713H286"/>
<path class="l" d="M286,713 L349,619"/>
<text class="n" transform="translate(310,707.7) skewX(-15) scale(0.8,1)" x="-0.14 15.86">37</text>
<path class="l" d="M308,712H336"/>
<path class="l" d="M336,712 L392.5,614"/>
<text class="n" transform="translate(453,685.2) skewX(-15) scale(0.8,1)" x="-0.14 15.86">36</text>
<path class="l" d="M450,691H477"/>
<path class="l" d="M477,691 L514,645"/>
<text class="n" transform="translate(478,717.7) skewX(-15) scale(0.8,1)" x="1.23 19.98">44</text>
<path class="l" d="M475.5,722.5H508"/>
<path class="l" d="M508,722.5 L531,641"/>
<text class="n" transform="translate(636.5,716.2) skewX(-15) scale(0.8,1)" x="-0.14 15.86">35</text>
<path class="l" d="M632,722.5H657.5"/>
<path class="l" d="M657.5,722.5 L706,663.75"/>
</g>
<g id="redboxes">
<rect class="rb" x="462.4" y="120.4" width="40.7" height="40" rx="1.5" style="stroke-width:6.2"/>
<rect class="rb" x="294.4" y="433.2" width="39.4" height="42.2" rx="1.5" style="stroke-width:6.3"/>
<rect class="rb" x="42.75" y="656.5" width="51" height="55" rx="1.5" style="stroke-width:6.75"/>
<rect class="rb" x="622.9" y="685.6" width="55.85" height="57.15" rx="1.5" style="stroke-width:6.75"/>
</g>

</svg>
</body>
</html>
